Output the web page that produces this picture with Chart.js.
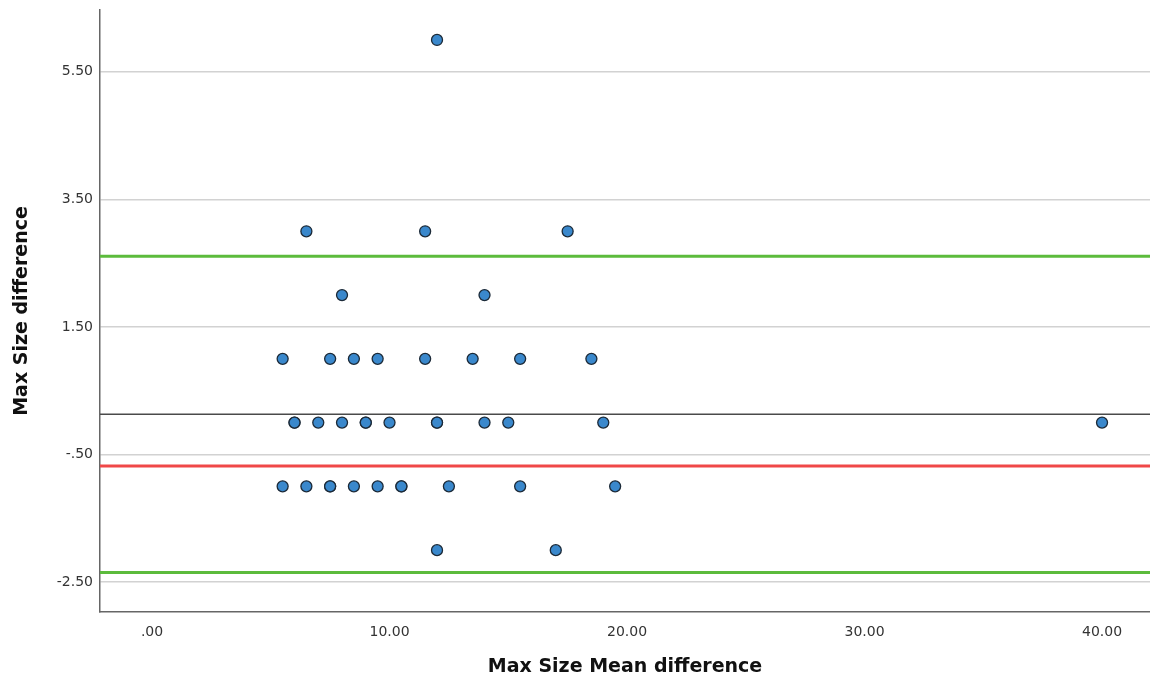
<!DOCTYPE html>
<html>
<head>
<meta charset="utf-8">
<script src="https://cdn.jsdelivr.net/npm/chart.js@4/dist/chart.umd.min.js"></script>
<style>
  html, body { margin: 0; padding: 0; background: #ffffff; }
  #wrap { width: 1150px; height: 680px; position: relative; }
</style>
</head>
<body>
<div id="wrap"><canvas id="c" width="1150" height="680"></canvas></div>
<script>
// Data (Bland-Altman plot)
const meanValues = [12,
  6.5, 11.5, 17.5,
  8, 14,
  5.5, 7.5, 8.5, 9.5, 11.5, 13.5, 15.5, 18.5,
  6, 6, 7, 8, 9, 9, 10, 12, 12, 14, 15, 19, 40,
  5.5, 6.5, 7.5, 7.5, 8.5, 9.5, 10.5, 10.5, 12.5, 15.5, 19.5,
  12, 17];
const diffValues = [6,
  3, 3, 3,
  2, 2,
  1, 1, 1, 1, 1, 1, 1, 1,
  0, 0, 0, 0, 0, 0, 0, 0, 0, 0, 0, 0, 0,
  -1, -1, -1, -1, -1, -1, -1, -1, -1, -1, -1,
  -2, -2];

const meanDiff = 0.13;
const upperLoA = 2.61;
const lowerLoA = -2.35;
const redLine = -0.68;

const xRange = [-2.19, 42.02];
const yRange = [-2.97, 6.47];
const xTickValues = [0, 10, 20, 30, 40];
const xTickLabels = ['.00', '10.00', '20.00', '30.00', '40.00'];
const yTickValues = [5.5, 3.5, 1.5, -0.5, -2.5];
const yTickLabels = ['5.50', '3.50', '1.50', '-.50', '-2.50'];

const points = meanValues.map((m, i) => ({ x: m, y: diffValues[i] }));
const hLine = v => [{ x: xRange[0], y: v }, { x: xRange[1], y: v }];

const FONT = "'DejaVu Sans', sans-serif";

new Chart(document.getElementById('c'), {
  type: 'scatter',
  data: {
    datasets: [
      {
        label: 'Differences',
        data: points,
        pointRadius: 5.5,
        pointHoverRadius: 5.5,
        pointBackgroundColor: '#3a88cc',
        pointBorderColor: '#1c2a38',
        pointBorderWidth: 1.3,
        showLine: false
      },
      {
        label: 'Mean',
        data: hLine(meanDiff),
        showLine: true,
        borderColor: '#4a4a4a',
        borderWidth: 1.5,
        pointRadius: 0
      },
      {
        label: 'Red',
        data: hLine(redLine),
        showLine: true,
        borderColor: '#f04848',
        borderWidth: 3,
        pointRadius: 0
      },
      {
        label: 'Upper LoA',
        data: hLine(upperLoA),
        showLine: true,
        borderColor: '#5cbb3c',
        borderWidth: 3,
        pointRadius: 0
      },
      {
        label: 'Lower LoA',
        data: hLine(lowerLoA),
        showLine: true,
        borderColor: '#5cbb3c',
        borderWidth: 3,
        pointRadius: 0
      }
    ]
  },
  options: {
    responsive: false,
    animation: false,
    layout: { autoPadding: false, padding: { top: 10, right: 0, bottom: 0, left: 0 } },
    plugins: {
      legend: { display: false },
      tooltip: { enabled: false }
    },
    scales: {
      x: {
        type: 'linear',
        min: xRange[0],
        max: xRange[1],
        afterBuildTicks: s => { s.ticks = xTickValues.map(v => ({ value: v })); },
        afterFit: s => { s.height = 68; s.paddingLeft = 0; s.paddingRight = 0; },
        ticks: {
          padding: 12,
          maxRotation: 0,
          autoSkip: false,
          color: '#333333',
          font: { family: FONT, size: 14 },
          callback: (v) => { const i = xTickValues.indexOf(v); return i >= 0 ? xTickLabels[i] : ''; }
        },
        grid: { display: false, drawTicks: false },
        border: { display: true, color: '#666666', width: 1.5 },
        title: {
          display: true,
          text: 'Max Size Mean difference',
          color: '#111111',
          font: { family: FONT, size: 19, weight: 'bold' },
          padding: { top: 0, bottom: 2 }
        }
      },
      y: {
        type: 'linear',
        min: yRange[0],
        max: yRange[1],
        afterBuildTicks: s => { s.ticks = yTickValues.map(v => ({ value: v })); },
        afterFit: s => { s.width = 100; s.paddingTop = 0; s.paddingBottom = 0; },
        ticks: {
          padding: 7,
          autoSkip: false,
          color: '#333333',
          font: { family: FONT, size: 14 },
          callback: (v) => { const i = yTickValues.indexOf(v); return i >= 0 ? yTickLabels[i] : ''; }
        },
        grid: { display: true, drawTicks: false, color: '#d2d2d2', lineWidth: 1.5 },
        border: { display: true, color: '#666666', width: 1.5 },
        title: {
          display: true,
          text: 'Max Size difference',
          color: '#111111',
          font: { family: FONT, size: 19, weight: 'bold' },
          padding: { top: 11, bottom: 0 }
        }
      }
    }
  }
});
</script>
</body>
</html>
